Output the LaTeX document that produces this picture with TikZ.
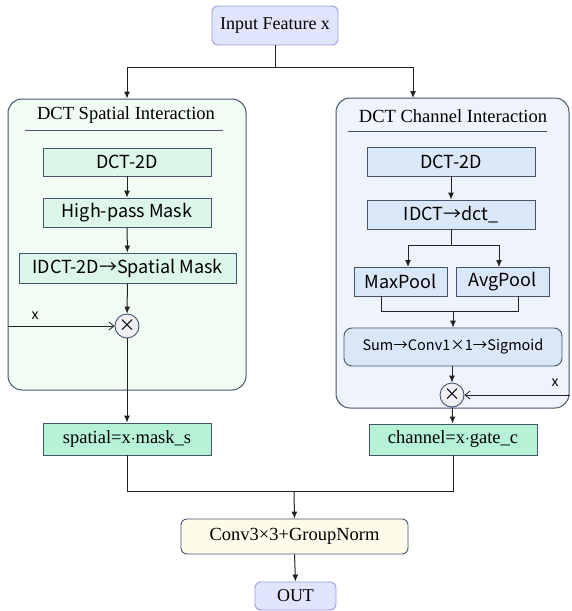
\documentclass[tikz,border=0pt]{standalone}
\usepackage{fontspec}
\setmainfont{Liberation Serif}
\newfontfamily\cjksans{Noto Sans CJK SC}
\usetikzlibrary{arrows.meta}
\definecolor{lavfill}{HTML}{E1E5FB}
\definecolor{lavline}{HTML}{9A9AE6}
\definecolor{dline}{HTML}{45556E}
\definecolor{lbg}{HTML}{F0FCF4}
\definecolor{lbox}{HTML}{DDF6EA}
\definecolor{mint}{HTML}{B6F2D5}
\definecolor{rbg}{HTML}{EEF3FC}
\definecolor{rbox}{HTML}{DAE7F8}
\definecolor{cream}{HTML}{FDFBEA}
\definecolor{cfill}{HTML}{EFEFF3}
\definecolor{aline}{HTML}{222222}
\tikzset{
  base/.style={draw=dline, line width=0.9pt, inner sep=0pt, align=center},
  lav/.style={base, draw=lavline, fill=lavfill, rounded corners=6pt, font=\fontsize{18}{20}\selectfont},
  cont/.style={base, line width=1pt, rounded corners=14pt},
  lb/.style={base, fill=lbox, font=\cjksans\fontsize{18}{20}\selectfont},
  rb/.style={base, fill=rbox, font=\cjksans\fontsize{18}{20}\selectfont},
  mb/.style={base, fill=mint, font=\fontsize{18.5}{20}\selectfont},
  mult/.style={base, circle, fill=cfill, minimum size=24pt, font=\cjksans\fontsize{17}{17}\selectfont},
  ttl/.style={inner sep=0pt, font=\fontsize{18.5}{20}\selectfont},
  xlab/.style={inner sep=0pt, font=\cjksans\fontsize{14}{14}\selectfont},
  arr/.style={draw=aline, line width=1pt, -{Latex[length=7pt,width=6pt]}},
  ln/.style={draw=aline, line width=1pt},
  xarr/.style={draw=aline, line width=0.8pt, -{Straight Barb[length=5pt,width=8pt]}},
}
\begin{document}
\begin{tikzpicture}[x=1pt,y=-1pt]
\useasboundingbox (0,0) rectangle (571,611);
% top input
\node[lav, minimum width=126pt, minimum height=39pt] (in) at (275,25.5) {Input Feature x};
% containers
\node[cont, fill=lbg, minimum width=238pt, minimum height=291pt] (L) at (127,244.5) {};
\node[cont, fill=rbg, minimum width=233pt, minimum height=310pt] (R) at (452.5,253) {};
% split
\coordinate (sp) at (275,67);
\coordinate (rt) at (413,98);
\draw[ln] (in.south) -- (sp);
\draw[arr] (sp) -| (L.north);
\draw[arr] (sp) -| (rt);
% left titles
\node[ttl] (lt) at (126,115) {DCT Spatial Interaction};
\coordinate (lu1) at (25,130); \coordinate (lu2) at (223,130);
\draw[line width=1pt, draw=dline] (lu1) -- (lu2);
% left chain
\node[lb, minimum width=168pt, minimum height=28pt] (d1) at (127,162) {DCT-2D};
\node[lb, minimum width=168pt, minimum height=29pt] (d2) at (127,212.5) {High-pass Mask};
\node[lb, minimum width=217pt, minimum height=30pt] (d3) at (127.5,268) {IDCT-2D→Spatial Mask};
\node[mult] (m1) at (127,326) {×};
\node[mb, minimum width=168pt, minimum height=32pt] (s) at (127,439) {spatial=x$\cdot$mask\_s};
\draw[arr] (d1) -- (d2);
\draw[arr] (d2) -- (d3);
\draw[arr] (d3) -- (m1);
\draw[arr] (m1) -- (s);
\coordinate (xl) at (8,326);
\draw[xarr] (xl) -- (m1.west);
\node[xlab] (xlt) at (35,316) {x};
% right title
\node[ttl] (rtl) at (453,116) {DCT Channel Interaction};
\coordinate (ru1) at (348,131); \coordinate (ru2) at (547,131);
\draw[line width=1pt, draw=dline] (ru1) -- (ru2);
% right chain
\node[rb, minimum width=168pt, minimum height=29pt] (r1) at (451,161.5) {DCT-2D};
\node[rb, minimum width=168pt, minimum height=29pt] (r2) at (451,214.5) {IDCT→dct\_};
\node[rb, minimum width=93pt, minimum height=29pt] (mp) at (400.5,281.5) {MaxPool};
\node[rb, minimum width=93pt, minimum height=29pt] (ap) at (502.5,281.5) {AvgPool};
\node[rb, rounded corners=8pt, minimum width=218pt, minimum height=38pt, font=\cjksans\fontsize{14.5}{16}\selectfont] (sum) at (453,347) {Sum→Conv1×1→Sigmoid};
\node[mult] (m2) at (452,395) {×};
\node[mb, minimum width=168pt, minimum height=31pt] (c) at (453,439.5) {channel=x$\cdot$gate\_c};
\draw[arr] (r1) -- (r2);
\coordinate (br) at (451,245);
\coordinate (mpt) at (408,267);
\coordinate (apt) at (499,267);
\draw[ln] (r2.south) -- (br);
\draw[arr] (br) -| (mpt);
\draw[arr] (br) -| (apt);
\coordinate (mpb) at (381,296);
\coordinate (apb) at (518,296);
\coordinate (mg) at (453,311);
\draw[ln] (mpb) |- (mg);
\draw[ln] (apb) |- (mg);
\draw[arr] (mg) -- (sum.north);
\draw[arr] (sum.south -| m2.north) -- (m2.north);
\draw[arr] (m2) -- (c);
\coordinate (xr) at (570,395);
\draw[xarr] (xr) -- (m2.east);
\node[xlab] (xrt) at (555,383) {x};
% bottom
\node[base, fill=cream, rounded corners=6pt, minimum width=227pt, minimum height=35pt, font=\fontsize{18.5}{20}\selectfont] (cv) at (294.5,536.5) {Conv3×3+GroupNorm};
\node[lav, minimum width=81pt, minimum height=28pt] (out) at (295.5,596) {OUT};
\coordinate (j) at (294,491);
\draw[ln] (s.south) |- (j);
\draw[ln] (c.south) |- (j);
\draw[arr] (j) -- (cv.north);
\draw[arr] (cv.south) -- (out.north);
\end{tikzpicture}
\end{document}
